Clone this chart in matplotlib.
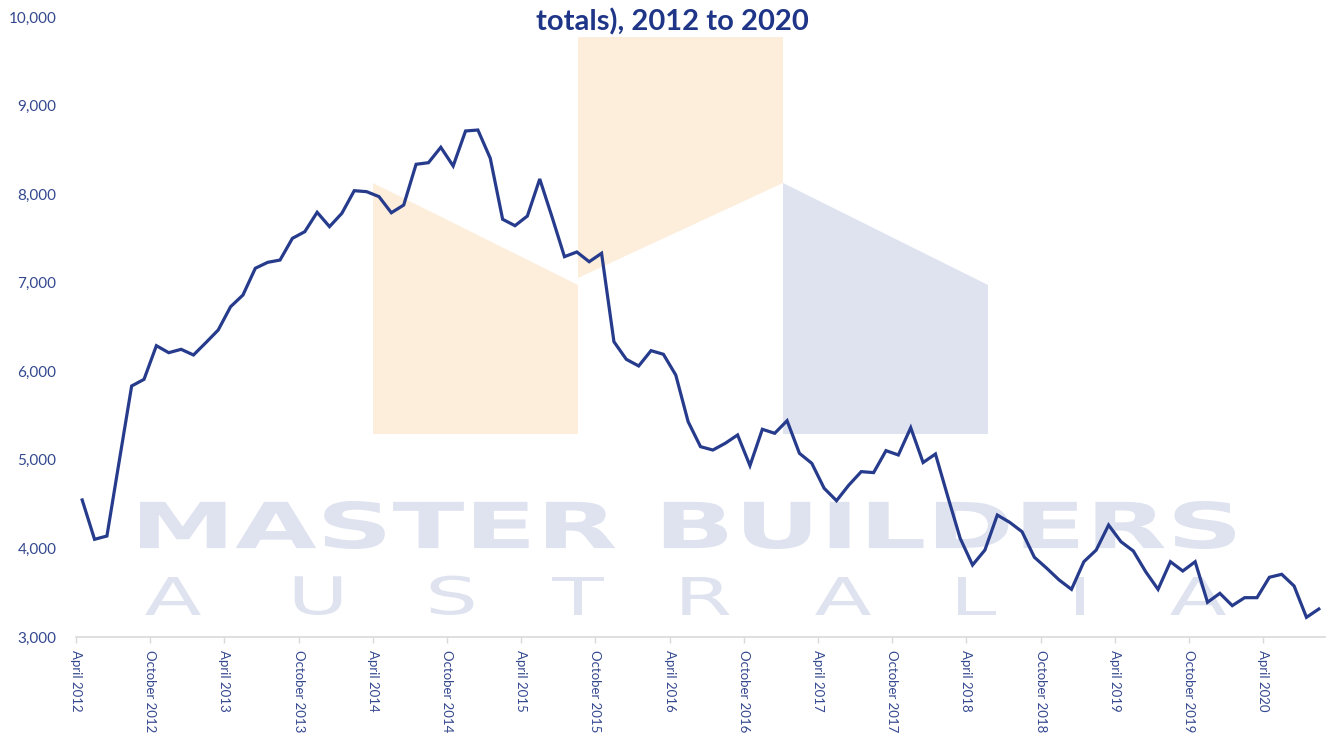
import matplotlib
matplotlib.use('Agg')
import matplotlib.pyplot as plt
from matplotlib.textpath import TextPath
from matplotlib.font_manager import FontProperties
from matplotlib.patches import PathPatch, Polygon
from matplotlib.transforms import Affine2D

plt.rcParams['font.family'] = ['Lato', 'DejaVu Sans']

# monthly values, April 2012 .. August 2020
values = [
    4547, 4103, 4140, 4990, 5834, 5909, 6289, 6210, 6248, 6184,
    6323, 6466, 6729, 6861, 7163, 7230, 7256, 7501, 7576, 7795,
    7633, 7784, 8039, 8028, 7972, 7790, 7877, 8337, 8355, 8529,
    8318, 8713, 8724, 8405, 7716, 7644, 7753, 8171, 7740, 7294,
    7347, 7237, 7332, 6334, 6135, 6060, 6233, 6192, 5958, 5431,
    5149, 5111, 5187, 5281, 4935, 5345, 5300, 5442, 5074, 4961,
    4679, 4539, 4716, 4867, 4856, 5104, 5055, 5363, 4970, 5066,
    4584, 4114, 3813, 3982, 4377, 4295, 4189, 3900, 3776, 3644,
    3538, 3850, 3982, 4264, 4076, 3971, 3737, 3538, 3850, 3745,
    3850, 3392, 3493, 3354, 3444, 3444, 3674, 3708, 3576, 3222,
    3316,
]
tick_labels = [
    'April 2012', 'October 2012', 'April 2013', 'October 2013',
    'April 2014', 'October 2014', 'April 2015', 'October 2015',
    'April 2016', 'October 2016', 'April 2017', 'October 2017',
    'April 2018', 'October 2018', 'April 2019', 'October 2019',
    'April 2020',
]
yticks = [3000, 4000, 5000, 6000, 7000, 8000, 9000, 10000]
title = 'totals), 2012 to 2020'

navy = '#263b8c'
label_col = '#34488f'
wm_blue = '#dfe3f0'
wm_orange = '#fdeedc'

W, H = 1333, 740
fig = plt.figure(figsize=(W / 100, H / 100), dpi=100)


def add_poly(pts, color):
    p = Polygon([(x / W, 1 - y / H) for x, y in pts], closed=True,
                transform=fig.transFigure, facecolor=color,
                edgecolor='none', zorder=-2)
    fig.add_artist(p)


def add_path(tp, x0, ybot, sx, sy, color):
    bb = tp.get_extents()
    tr = (Affine2D().translate(-bb.x0, -bb.y0).scale(sx / W, sy / H)
          .translate(x0 / W, 1 - ybot / H) + fig.transFigure)
    fig.add_artist(PathPatch(tp, transform=tr, facecolor=color,
                             edgecolor='none', zorder=-1))


# logo blocks behind the chart
add_poly([(373, 183), (578, 285), (578, 434), (373, 434)], wm_orange)
add_poly([(578, 37), (783, 37), (783, 183), (578, 278)], wm_orange)
add_poly([(783, 183), (988, 285), (988, 434), (783, 434)], wm_blue)

# watermark text
bold = FontProperties(family='DejaVu Sans', weight='bold')
tp = TextPath((0, 0), 'MASTER BUILDERS', size=100, prop=bold)
bb = tp.get_extents()
add_path(tp, 140, 549, (1235 - 140) / bb.width, (549 - 501) / bb.height, wm_blue)

thin = FontProperties(family='DejaVu Sans')
centers = [173, 318, 452, 578, 706, 843, 977, 1080, 1198]
ref = TextPath((0, 0), 'A', size=100, prop=thin).get_extents()
sy = 38 / ref.height
sx = sy * 1.6
for ch, cx in zip('AUSTRALIA', centers):
    tp = TextPath((0, 0), ch, size=100, prop=thin)
    b = tp.get_extents()
    add_path(tp, cx - b.width * sx / 2, 615, sx, sy, wm_blue)

# chart
ax = fig.add_axes([76 / W, 1 - 637 / H, (1325 - 76) / W, 620 / H])
ax.set_facecolor('none')
ax.plot(range(len(values)), values, color=navy, lw=2.3, solid_joinstyle='miter')
ax.set_xlim(-0.5, 100.5)
ax.set_ylim(3000, 10000)
ax.set_yticks(yticks)
ax.set_yticklabels([f'{v:,}' for v in yticks])
ax.set_xticks([i * 6 - 0.5 for i in range(len(tick_labels))])
ax.set_xticklabels(tick_labels, rotation=270)
for s in ['top', 'right', 'left']:
    ax.spines[s].set_visible(False)
ax.spines['bottom'].set_color('#d9d9d9')
ax.spines['bottom'].set_linewidth(1.2)
ax.tick_params(axis='y', length=0, pad=14, labelsize=11, labelcolor=label_col)
ax.tick_params(axis='x', length=4, width=1, color='#d9d9d9', pad=5,
               labelsize=9.5, labelcolor=label_col)

fig.text(672 / W, 1 - 22 / H, title, ha='center', va='center',
         fontsize=21, fontweight='bold', color='#1f3688')

fig.savefig('out.png', dpi=100)
